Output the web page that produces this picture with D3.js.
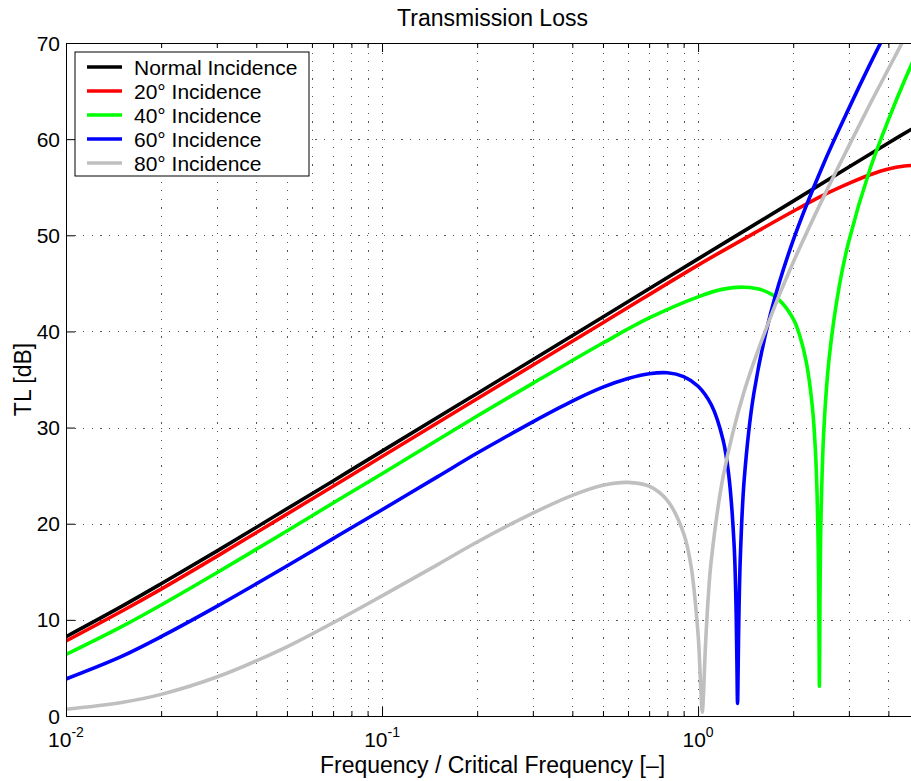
<!DOCTYPE html>
<html>
<head>
<meta charset="utf-8">
<script src="https://cdn.jsdelivr.net/npm/d3@7"></script>
<style>
body { margin: 0; background: #fff; }
svg { display: block; font-family: "Liberation Sans", Arial, Helvetica, sans-serif; }
</style>
</head>
<body>
<script>
"use strict";

// values (f / fc, TL in dB)
const fNormal  = [0.01, 0.015, 0.02, 0.03, 0.05, 0.07, 0.1, 0.2, 0.5, 1, 2, 3, 4, 5];
const tlNormal = [8.25, 11.4, 13.75, 17.15, 21.55, 24.45, 27.55, 33.55, 41.5, 47.55, 53.55, 57.1, 59.6, 61.5];

const f20  = [0.01, 0.015, 0.02, 0.03, 0.05, 0.07, 0.1, 0.2, 0.5, 1, 1.5, 2, 2.5, 3, 3.5, 4, 4.5, 5];
const tl20 = [7.8, 10.9, 13.2, 16.6, 21.0, 23.9, 27.0, 33.0, 40.9, 46.9, 50.2, 52.5, 54.2, 55.4, 56.3, 56.9, 57.2, 57.3];

const f40  = [0.01, 0.015, 0.02, 0.03, 0.05, 0.07, 0.1, 0.2, 0.3, 0.5, 0.7, 1, 1.2, 1.4, 1.6, 1.8, 2, 2.1, 2.2, 2.3, 2.35, 2.38, 2.4, 2.41, 2.415, 2.42, 2.425, 2.43, 2.45, 2.5, 2.6, 2.8, 3, 3.5, 4, 4.5, 5];
const tl40 = [6.4, 9.3, 11.55, 14.9, 19.25, 22.15, 25.2, 31.2, 34.6, 38.8, 41.4, 43.6, 44.4, 44.6, 44.3, 43.3, 41.3, 39.5, 36.8, 32.1, 27.7, 23.0, 17.2, 11.6, 7.5, 3.1, 7.2, 12.2, 21.1, 29.8, 37.3, 44.8, 49.4, 56.9, 62.0, 66.1, 69.5];

const f60  = [0.01, 0.015, 0.02, 0.03, 0.05, 0.07, 0.1, 0.15, 0.2, 0.25, 0.3, 0.4, 0.5, 0.6, 0.7, 0.8, 0.9, 1, 1.1, 1.2, 1.25, 1.3, 1.32, 1.327, 1.333, 1.34, 1.345, 1.36, 1.4, 1.5, 1.7, 2, 2.5, 3, 3.5, 4];
const tl60 = [3.85, 6.2, 8.25, 11.4, 15.6, 18.45, 21.45, 24.9, 27.35, 29.15, 30.6, 32.75, 34.2, 35.1, 35.6, 35.7, 35.3, 34.3, 32.4, 28.7, 25.1, 17.8, 10.5, 5.5, 1.3, 5.9, 9.7, 16.4, 24.7, 33.5, 42.0, 49.5, 57.5, 63.2, 67.8, 71.6];

const f80  = [0.01, 0.015, 0.02, 0.03, 0.05, 0.07, 0.1, 0.15, 0.2, 0.3, 0.4, 0.5, 0.6, 0.7, 0.8, 0.9, 0.95, 1, 1.01, 1.02, 1.031, 1.04, 1.05, 1.06, 1.08, 1.1, 1.2, 1.4, 1.7, 2, 2.5, 3, 3.5, 4, 4.5, 5];
const tl80 = [0.7, 1.4, 2.25, 4.05, 7.2, 9.7, 12.5, 15.75, 18.1, 21.1, 22.95, 24.0, 24.3, 23.9, 22.4, 19.0, 15.6, 8.5, 6.0, 2.8, 0.4, 2.2, 5.7, 8.6, 13.0, 16.1, 24.9, 33.8, 41.6, 47.2, 54.05, 59.3, 63.65, 67.3, 70.5, 73.4];

const seriesNames  = ["Normal Incidence", "20\u00b0 Incidence", "40\u00b0 Incidence", "60\u00b0 Incidence", "80\u00b0 Incidence"];
const seriesColors = ["#000000", "#ff0000", "#00ff00", "#0000ff", "#bfbfbf"];
const yTickValues  = [0, 10, 20, 30, 40, 50, 60, 70];
const xMajorTicks  = [0.01, 0.1, 1];
const xExponents   = ["-2", "-1", "0"];

let series = [
    [fNormal, tlNormal], [f20, tl20], [f40, tl40], [f60, tl60], [f80, tl80]
].map((s, i) => ({
    name: seriesNames[i],
    color: seriesColors[i],
    points: s[0].map((f, j) => [f, s[1][j]])
}));

const W = 911, H = 781;
let svg = d3.select("body").append("svg").attr("width", W).attr("height", H);

// the axes box runs a bit past the right edge of the picture (to f/fc = 5)
let x = d3.scaleLog().domain([0.01, 5]).range([66, 919]);
let y = d3.scaleLinear().domain([0, 70]).range([716, 43]);
let allXTicks = x.ticks();

svg.append("defs").append("clipPath").attr("id", "plotclip")
    .append("rect")
    .attr("x", x.range()[0]).attr("y", y.range()[1])
    .attr("width", x.range()[1] - x.range()[0])
    .attr("height", y.range()[0] - y.range()[1]);

// dotted grid
let grid = svg.append("g")
    .attr("stroke", "#555")
    .attr("stroke-width", 1)
    .attr("stroke-dasharray", "1.2,7.4")
    .attr("shape-rendering", "crispEdges");

grid.selectAll("line.v")
    .data(allXTicks.filter(t => t > 0.01))
    .enter().append("line")
    .attr("class", "v")
    .attr("x1", d => Math.round(x(d)) + 0.5).attr("x2", d => Math.round(x(d)) + 0.5)
    .attr("y1", y(0)).attr("y2", y(70));

grid.selectAll("line.h")
    .data(yTickValues.filter(t => t > 0 && t < 70))
    .enter().append("line")
    .attr("class", "h")
    .attr("y1", d => Math.round(y(d)) + 0.5).attr("y2", d => Math.round(y(d)) + 0.5)
    .attr("x1", x.range()[0]).attr("x2", x.range()[1]);

// curves
let line = d3.line()
    .x(d => x(d[0]))
    .y(d => y(d[1]))
    .curve(d3.curveCatmullRom.alpha(0.5));

svg.append("g")
    .attr("clip-path", "url(#plotclip)")
    .selectAll("path")
    .data(series)
    .enter().append("path")
    .attr("d", d => line(d.points))
    .attr("fill", "none")
    .attr("stroke", d => d.color)
    .attr("stroke-width", 3.6)
    .attr("stroke-linejoin", "round");

// axes: inward ticks on bottom, top and left
let isMajor = t => xMajorTicks.some(m => Math.abs(m - t) < 1e-9);

svg.append("g")
    .attr("transform", `translate(0,${y(0)})`)
    .call(d3.axisBottom(x).tickValues(allXTicks).tickSizeOuter(0).tickFormat(""))
    .call(g => g.selectAll(".tick line").attr("y2", d => isMajor(d) ? -9 : -5));

svg.append("g")
    .attr("transform", `translate(0,${y(70)})`)
    .call(d3.axisTop(x).tickValues(allXTicks).tickSizeOuter(0).tickFormat(""))
    .call(g => g.selectAll(".tick line").attr("y2", d => isMajor(d) ? 9 : 5));

svg.append("g")
    .attr("transform", `translate(${x(0.01)},0)`)
    .call(d3.axisLeft(y).tickValues(yTickValues).tickSizeOuter(0).tickSizeInner(-9).tickFormat(""));

svg.selectAll(".tick line").attr("stroke", "#000");
svg.selectAll(".domain").attr("stroke", "#000").attr("stroke-width", 1);

// tick labels
svg.append("g").selectAll("text")
    .data(yTickValues)
    .enter().append("text")
    .attr("x", 60)
    .attr("y", d => y(d) + 7.5)
    .attr("text-anchor", "end")
    .attr("font-size", 21)
    .text(d => d);

let xl = svg.append("g").selectAll("text")
    .data(xMajorTicks)
    .enter().append("text")
    .attr("x", d => x(d))
    .attr("y", 747)
    .attr("text-anchor", "middle")
    .attr("font-size", 21);
xl.append("tspan").text("10");
xl.append("tspan").attr("dy", -10).attr("font-size", 14).text((d, i) => xExponents[i]);

// titles
svg.append("text")
    .attr("x", (x.range()[0] + x.range()[1]) / 2).attr("y", 26)
    .attr("text-anchor", "middle").attr("font-size", 23)
    .text("Transmission Loss");

svg.append("text")
    .attr("x", (x.range()[0] + x.range()[1]) / 2).attr("y", 773)
    .attr("text-anchor", "middle").attr("font-size", 23)
    .text("Frequency / Critical Frequency [\u2013]");

svg.append("text")
    .attr("transform", `translate(31,${(y(0) + y(70)) / 2}) rotate(-90)`)
    .attr("text-anchor", "middle").attr("font-size", 23)
    .text("TL [dB]");

// legend
let legend = svg.append("g").attr("transform", "translate(75,52)");
legend.append("rect")
    .attr("width", 234).attr("height", 124)
    .attr("fill", "#fff").attr("stroke", "#000").attr("stroke-width", 1);

let rows = legend.selectAll("g.row")
    .data(series)
    .enter().append("g")
    .attr("class", "row")
    .attr("transform", (d, i) => `translate(0,${15 + i * 24})`);
rows.append("line")
    .attr("x1", 12).attr("x2", 47)
    .attr("stroke", d => d.color).attr("stroke-width", 3.6);
rows.append("text")
    .attr("x", 59).attr("y", 7.5)
    .attr("font-size", 21)
    .text(d => d.name);
</script>
</body>
</html>
